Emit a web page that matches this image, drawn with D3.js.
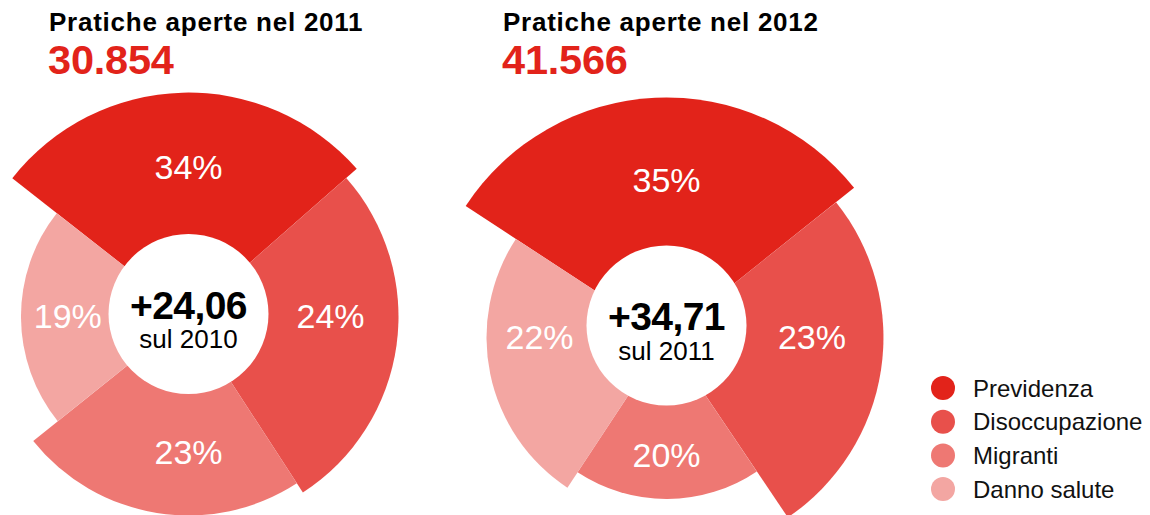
<!DOCTYPE html>
<html>
<head>
<meta charset="utf-8">
<script src="https://cdn.jsdelivr.net/npm/d3@7"></script>
<style>
  html, body { margin: 0; padding: 0; background: #ffffff; }
  svg { display: block; }
  text { font-family: "Liberation Sans", Arial, Helvetica, sans-serif; }
</style>
</head>
<body>
<svg id="chart" width="1150" height="515"></svg>
<script>
// ---------- data ----------
const categories = ["Previdenza", "Disoccupazione", "Migranti", "Danno salute"];
const years = ["2011", "2012"];
const totals = ["30.854", "41.566"];
const changes = ["+24,06", "+34,71"];
const baseYears = ["sul 2010", "sul 2011"];
const share2011 = [34, 24, 23, 19];
const share2012 = [35, 23, 20, 22];
// angular weight of each sector (degrees)
const sweep2011 = [100.6, 98.3, 84.3, 76.8];
const sweep2012 = [108.2, 94.6, 67.4, 89.8];
// radial reach of each sector (relative units, 100 = largest)
const reach2011 = [93.3, 87.5, 82.9, 69.8];
const reach2012 = [100, 90.4, 67.3, 75.0];
const colors = ["#e2231a", "#e8504b", "#ee7873", "#f3a6a2"];

// ---------- layout ----------
const svg = d3.select("#chart");
const rScale = d3.scaleLinear().domain([0, 100]).range([0, 240]);
const holeR = 80;

const charts = [
  { share: share2011, sweep: sweep2011, reach: reach2011, cx: 188.5, cy: 316.5, start: -51.9, holeDy: -2.5, titleX: 49 },
  { share: share2012, sweep: sweep2012, reach: reach2012, cx: 666.5, cy: 337.5, start: -56.8, holeDy: -12, titleX: 503 }
];

const color = d3.scaleOrdinal().domain(categories).range(colors);

charts.forEach((c, ci) => {
  const rows = categories.map((name, i) => ({ name, share: c.share[i], sweep: c.sweep[i], reach: c.reach[i], i }));
  const s = c.start * Math.PI / 180;
  const pie = d3.pie().sort(null).value(d => d.sweep).startAngle(s).endAngle(s + 2 * Math.PI);
  const arc = d3.arc().innerRadius(0).outerRadius(d => rScale(d.data.reach));

  const g = svg.append("g").attr("transform", `translate(${c.cx},${c.cy})`);
  g.selectAll("path.slice")
    .data(pie(rows))
    .join("path")
    .attr("class", "slice")
    .attr("d", arc)
    .attr("fill", d => color(d.data.name));

  // hole
  g.append("circle").attr("cx", 0).attr("cy", c.holeDy).attr("r", holeR).attr("fill", "#ffffff");

  // percentage labels (at cardinal directions)
  g.selectAll("text.pct")
    .data(rows)
    .join("text")
    .attr("class", "pct")
    .each(function(d) {
      const a = d.i * Math.PI / 2;
      const rr = (holeR + rScale(d.reach)) / 2 - 3;
      d3.select(this)
        .attr("x", rr * Math.sin(a))
        .attr("y", -rr * Math.cos(a) + 11.5);
    })
    .attr("text-anchor", "middle")
    .attr("fill", "#ffffff")
    .attr("font-size", 34)
    .text(d => d.share + "%");

  // centre text
  g.append("text")
    .attr("x", 0).attr("y", c.holeDy + 4.5)
    .attr("text-anchor", "middle")
    .attr("font-size", 39).attr("font-weight", "bold")
    .attr("letter-spacing", -0.6)
    .attr("fill", "#000")
    .text(changes[ci]);
  g.append("text")
    .attr("x", 0).attr("y", c.holeDy + 34)
    .attr("text-anchor", "middle")
    .attr("font-size", 26)
    .attr("fill", "#000")
    .text(baseYears[ci]);

  // titles
  svg.append("text")
    .attr("x", c.titleX).attr("y", 31)
    .attr("font-size", 26).attr("font-weight", "bold")
    .attr("letter-spacing", 0.75)
    .attr("fill", "#000")
    .text("Pratiche aperte nel " + years[ci]);
  svg.append("text")
    .attr("x", c.titleX - 1).attr("y", 74)
    .attr("font-size", 41.5).attr("font-weight", "bold")
    .attr("letter-spacing", -0.2)
    .attr("fill", colors[0])
    .text(totals[ci]);
});

// ---------- legend ----------
const legend = svg.append("g").attr("transform", "translate(943,388)");
const lg = legend.selectAll("g").data(categories).join("g")
  .attr("transform", (d, i) => `translate(0,${i * 33.7})`);
lg.append("circle").attr("r", 12).attr("fill", d => color(d));
lg.append("text").attr("x", 30).attr("y", 8.5)
  .attr("font-size", 24).attr("fill", "#111").text(d => d);
</script>
</body>
</html>
